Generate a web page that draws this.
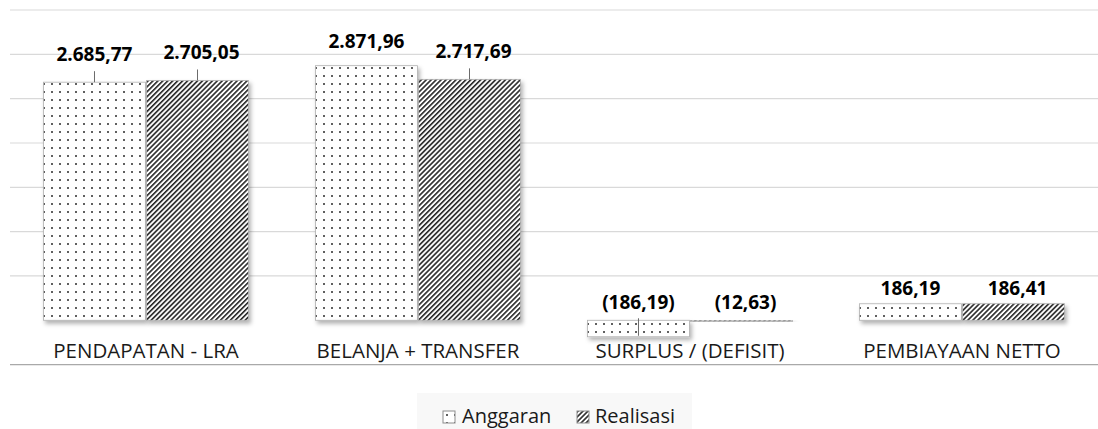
<!DOCTYPE html>
<html>
<head>
<meta charset="utf-8">
<script src="https://cdn.jsdelivr.net/npm/d3@7"></script>
<style>
  body { margin: 0; background: #fff; }
  svg { display: block; font-family: "Open Sans", sans-serif; }
</style>
</head>
<body>
<div id="chart"></div>
<script>
// data
var categories = ["PENDAPATAN - LRA", "BELANJA + TRANSFER", "SURPLUS / (DEFISIT)", "PEMBIAYAAN NETTO"];
var seriesNames = ["Anggaran", "Realisasi"];
var anggaran = [2685.77, 2871.96, -186.19, 186.19];
var realisasi = [2705.05, 2717.69, -12.63, 186.41];
var gridTicks = [-500, 500, 1000, 1500, 2000, 2500, 3000, 3500];

var width = 1098,
  height = 429;
var margin = { top: 10, right: 0, bottom: 64, left: 10 };

var svg = d3
  .select("#chart")
  .append("svg")
  .attr("width", width)
  .attr("height", height);

var defs = svg.append("defs");

// dotted fill for Anggaran
var dots = defs
  .append("pattern")
  .attr("id", "dots")
  .attr("patternUnits", "userSpaceOnUse")
  .attr("width", 8)
  .attr("height", 8);
dots.append("rect").attr("width", 8).attr("height", 8).attr("fill", "#fff");
dots.append("circle").attr("cx", 4).attr("cy", 4).attr("r", 1).attr("fill", "#2a2a2a");

// upward diagonal stripes for Realisasi
var stripes = defs
  .append("pattern")
  .attr("id", "stripes")
  .attr("patternUnits", "userSpaceOnUse")
  .attr("width", 3.5)
  .attr("height", 3.5)
  .attr("patternTransform", "rotate(45)");
stripes.append("rect").attr("width", 3.5).attr("height", 3.5).attr("fill", "#fff");
stripes.append("rect").attr("width", 1.6).attr("height", 3.5).attr("fill", "#262626");

// soft shadow like the excel chart
var shadow = defs.append("filter").attr("id", "shadow")
  .attr("x", "-10%").attr("y", "-10%").attr("width", "130%").attr("height", "160%");
shadow.append("feDropShadow")
  .attr("dx", 2).attr("dy", 3).attr("stdDeviation", 2)
  .attr("flood-color", "#000").attr("flood-opacity", 0.3);

var fills = { Anggaran: "url(#dots)", Realisasi: "url(#stripes)" };

var x0 = d3
  .scaleBand()
  .domain(categories)
  .range([margin.left, width - margin.right])
  .padding(0);

var x1 = d3
  .scaleBand()
  .domain(seriesNames)
  .range([0, x0.bandwidth()])
  .paddingInner(0.01)
  .paddingOuter(0.325);

var y = d3
  .scaleLinear()
  .domain([-500, 3500])
  .range([height - margin.bottom - 0.4, margin.top]);

// indonesian number format, negatives in brackets
var locale = d3.formatLocale({ decimal: ",", thousands: ".", grouping: [3], currency: ["", ""] });
var fmt = locale.format(",.2f");
function label(v) {
  return v < 0 ? "(" + fmt(-v) + ")" : fmt(v);
}

// gridlines
svg
  .append("g")
  .selectAll("line")
  .data(gridTicks)
  .join("line")
  .attr("x1", margin.left)
  .attr("x2", width - margin.right)
  .attr("y1", (d) => y(d))
  .attr("y2", (d) => y(d))
  .attr("stroke", (d) => (d < 0 ? "#a9a9a9" : "#d9d9d9"))
  .attr("stroke-width", (d) => (d < 0 ? 1.3 : 1.2));

var rows = [];
categories.forEach(function (c, i) {
  rows.push({ cat: c, series: "Anggaran", value: anggaran[i] });
  rows.push({ cat: c, series: "Realisasi", value: realisasi[i] });
});

// bars
svg
  .append("g")
  .selectAll("rect")
  .data(rows)
  .join("rect")
  .attr("x", (d) => x0(d.cat) + x1(d.series))
  .attr("width", x1.bandwidth())
  .attr("y", (d) => y(Math.max(0, d.value)))
  .attr("height", (d) => Math.abs(y(d.value) - y(0)))
  .attr("fill", (d) => fills[d.series])
  .attr("stroke", "#b0b0b0")
  .attr("stroke-width", 0.8)
  .attr("filter", "url(#shadow)");

// zero line
svg
  .append("line")
  .attr("x1", margin.left)
  .attr("x2", width - margin.right)
  .attr("y1", y(0))
  .attr("y2", y(0))
  .attr("stroke", "#404040")
  .attr("stroke-width", 4)
  .attr("filter", "url(#shadow)");

// label position: big bars got moved up (leader line), but not above the top row
function labelY(d) {
  if (d.value < 0) return y(0) - 11;
  if (d.value > 1000) return Math.max(48, y(d.value) - 21);
  return y(d.value) - 9;
}

function cx(d) {
  return x0(d.cat) + x1(d.series) + x1.bandwidth() / 2;
}

svg
  .append("g")
  .selectAll("line")
  .data(rows.filter((d) => (d.value > 1000 && y(d.value) - labelY(d) > 19) || d.value < -100))
  .join("line")
  .attr("x1", cx)
  .attr("x2", cx)
  .attr("y1", (d) => (d.value < 0 ? y(0) - 2 : labelY(d) + 10))
  .attr("y2", (d) => (d.value < 0 ? y(d.value) - 1 : y(d.value)))
  .attr("stroke", "#6b6b6b")
  .attr("stroke-width", 1);

svg
  .append("g")
  .selectAll("text")
  .data(rows)
  .join("text")
  .attr("x", (d) => cx(d) + (d.series == "Realisasi" ? 4 : 0))
  .attr("y", labelY)
  .attr("text-anchor", "middle")
  .attr("font-size", "19px")
  .attr("font-weight", "bold")
  .attr("fill", "#000")
  .text((d) => label(d.value));

// category labels
svg
  .append("g")
  .selectAll("text")
  .data(categories)
  .join("text")
  .attr("x", (d) => x0(d) + x0.bandwidth() / 2)
  .attr("y", 358)
  .attr("text-anchor", "middle")
  .attr("font-size", "20.5px")
  .attr("fill", "#1a1a1a")
  .text((d) => d);

// legend
svg
  .append("rect")
  .attr("x", 417)
  .attr("y", 393)
  .attr("width", 275)
  .attr("height", 40)
  .attr("fill", "#f8f8f8");

var legendX = [443, 577];
var legend = svg
  .append("g")
  .selectAll("g")
  .data(seriesNames)
  .join("g")
  .attr("transform", (d, i) => "translate(" + legendX[i] + ",411)");

legend
  .append("rect")
  .attr("width", 12)
  .attr("height", 12)
  .attr("fill", (d) => fills[d])
  .attr("stroke", "#8c8c8c")
  .attr("stroke-width", 1);

legend
  .append("text")
  .attr("x", (d, i) => (i == 0 ? 19 : 18))
  .attr("y", 12)
  .attr("font-size", "20px")
  .attr("fill", "#1a1a1a")
  .text((d) => d);
</script>
</body>
</html>
